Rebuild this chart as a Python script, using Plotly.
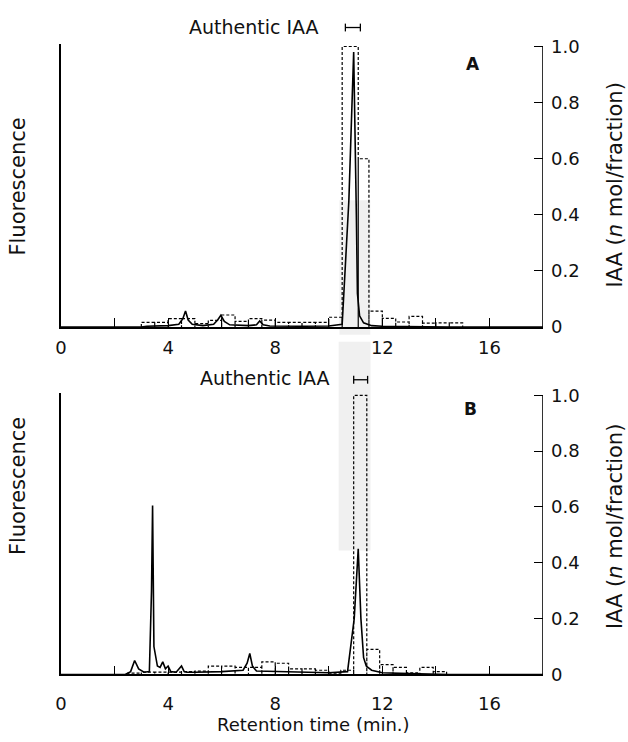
import plotly.graph_objects as go

# ---------------- data ----------------
# Panel A: fluorescence trace (relative units, same scale as right axis)
fl_a_t = [0, 3.0, 3.2, 4.0, 4.4, 4.55, 4.65, 4.75, 4.9, 5.3, 5.7, 5.85, 5.97, 6.1, 6.3,
          7.0, 7.3, 7.42, 7.55, 7.8, 9.0, 10.0, 10.5, 10.75, 10.93, 10.98, 11.03, 11.07,
          11.15, 11.3, 11.6, 12.0, 14.5, 18]
fl_a_v = [0, 0, 0.003, 0.005, 0.01, 0.03, 0.057, 0.025, 0.01, 0.005, 0.01, 0.025, 0.042, 0.02, 0.008,
          0.005, 0.008, 0.022, 0.008, 0.004, 0.003, 0.004, 0.01, 0.45, 0.98, 0.75, 0.4, 0.12,
          0.04, 0.015, 0.005, 0.003, 0, 0]
# Panel A: IAA per fraction (n mol/fraction)
frac_a_edges = [3.0, 3.5, 4.0, 4.5, 5.0, 5.5, 6.0, 6.5, 7.0, 7.5, 8.0, 8.5, 9.0, 9.5, 10.0,
                10.5, 11.1, 11.5, 12.0, 12.5, 13.0, 13.5, 14.0, 14.5, 15.0]
iaa_a = [0.017, 0.017, 0.03, 0.03, 0.012, 0.024, 0.043, 0.02, 0.03, 0.025, 0.017, 0.017,
         0.017, 0.017, 0.035, 1.0, 0.60, 0.057, 0.031, 0.018, 0.038, 0.014, 0.015, 0.015]

# Panel B
fl_b_t = [0, 2.4, 2.6, 2.75, 2.9, 3.1, 3.3, 3.38, 3.42, 3.47, 3.6, 3.7, 3.8, 3.9, 4.0, 4.1,
          4.3, 4.5, 4.6, 4.7, 5.0, 6.0, 6.8, 6.95, 7.05, 7.15, 7.3, 8.0, 9.0, 10.0, 10.7,
          10.95, 11.1, 11.15, 11.2, 11.3, 11.4, 11.6, 12.0, 13.0, 14.5, 18]
fl_b_v = [0, 0, 0.01, 0.05, 0.02, 0.008, 0.01, 0.3, 0.605, 0.1, 0.03, 0.025, 0.045, 0.02, 0.03, 0.01,
          0.008, 0.03, 0.01, 0.008, 0.008, 0.01, 0.015, 0.04, 0.075, 0.03, 0.012, 0.01, 0.007, 0.006, 0.01,
          0.2, 0.45, 0.32, 0.2, 0.06, 0.03, 0.015, 0.006, 0.003, 0, 0]
frac_b_edges = [2.5, 3.0, 3.5, 4.0, 4.5, 5.0, 5.5, 6.0, 6.5, 7.0, 7.5, 8.0, 8.5, 9.0, 9.5,
                10.0, 10.45, 10.93, 11.42, 11.9, 12.4, 12.9, 13.4, 13.9, 14.4]
iaa_b = [0.005, 0.008, 0.008, 0.008, 0.01, 0.012, 0.03, 0.03, 0.025, 0.025, 0.045, 0.04,
         0.02, 0.02, 0.015, 0.005, 0.015, 1.0, 0.09, 0.035, 0.025, 0.006, 0.025, 0.01]

authentic_a = [10.62, 11.18]
authentic_b = [10.93, 11.45]

x_tickvals = [0, 2, 4, 6, 8, 10, 12, 14, 16, 18]
x_ticktext = ["0", "", "4", "", "8", "", "12", "", "16", ""]
y_tickvals = [0, 0.2, 0.4, 0.6, 0.8, 1.0]
y_ticktext = ["0", "0.2", "0.4", "0.6", "0.8", "1.0"]

# ---------------- geometry ----------------
W, H = 628, 742
L, R = 61, 85
PW = W - L - R
FONT = "DejaVu Sans"

def px(xp):
    return (xp - L) / PW

def py(yp):
    return (H - yp) / H

def hist_path(edges, heights):
    xs, ys = [], []
    for i, h in enumerate(heights):
        x0, x1 = edges[i], edges[i + 1]
        xs += [x0, x0, x1, x1]
        ys += [0, h, h, 0]
    return xs, ys

fig = go.Figure()

ha_x, ha_y = hist_path(frac_a_edges, iaa_a)
hb_x, hb_y = hist_path(frac_b_edges, iaa_b)

fig.add_trace(go.Scatter(x=ha_x, y=ha_y, xaxis="x", yaxis="y2", mode="lines",
                         line=dict(color="black", width=1.2, dash="3px,2px"), showlegend=False))
fig.add_trace(go.Scatter(x=fl_a_t, y=fl_a_v, xaxis="x", yaxis="y", mode="lines",
                         line=dict(color="black", width=1.6), showlegend=False))
fig.add_trace(go.Scatter(x=hb_x, y=hb_y, xaxis="x2", yaxis="y4", mode="lines",
                         line=dict(color="black", width=1.2, dash="3px,2px"), showlegend=False))
fig.add_trace(go.Scatter(x=fl_b_t, y=fl_b_v, xaxis="x2", yaxis="y3", mode="lines",
                         line=dict(color="black", width=1.6), showlegend=False))

domA = [py(327), py(36.6)]
domB = [py(683), py(394.1)]
yr = [0, 1.01]

xcommon = dict(range=[0, 18], showgrid=False, zeroline=False, showline=True, linecolor="black",
               linewidth=1.6, ticks="inside", ticklen=9, tickwidth=1.4, tickcolor="black",
               tickvals=x_tickvals, ticktext=x_ticktext,
               tickfont=dict(family=FONT, size=18, color="#111"), domain=[0, 1])
yleft = dict(range=yr, showgrid=False, zeroline=False, showline=True, linecolor="black",
             linewidth=2, showticklabels=False, ticks="")
yright = dict(range=yr, showgrid=False, zeroline=False, showline=False, side="right",
              ticks="inside", ticklen=9, tickwidth=1.4, tickcolor="black",
              tickvals=y_tickvals, ticktext=y_ticktext, ticklabelstandoff=7,
              tickfont=dict(family=FONT, size=18, color="#111"))

fig.update_layout(
    width=W, height=H, margin=dict(l=L, r=R, t=0, b=0),
    paper_bgcolor="white", plot_bgcolor="rgba(0,0,0,0)",
    xaxis=dict(xcommon, anchor="y", ticklabelstandoff=4),
    xaxis2=dict(xcommon, anchor="y3", ticklabelstandoff=12),
    yaxis=dict(yleft, domain=domA, anchor="x"),
    yaxis2=dict(yright, domain=domA, anchor="x", overlaying="y"),
    yaxis3=dict(yleft, domain=domB, anchor="x2"),
    yaxis4=dict(yright, domain=domB, anchor="x2", overlaying="y3"),
)

shapes = []
# light grey shaded bands behind the IAA peak
shapes.append(dict(type="rect", xref="x", yref="paper", x0=10.4, x1=11.55, y0=py(335), y1=py(197),
                   fillcolor="#f0f0f0", line=dict(width=0), layer="below"))
shapes.append(dict(type="rect", xref="x2", yref="paper", x0=10.37, x1=11.56, y0=py(556), y1=py(342),
                   fillcolor="#f0f0f0", line=dict(width=0), layer="below"))
# right axis lines
shapes.append(dict(type="line", xref="x", yref="y2", x0=18, x1=18, y0=0, y1=1.0,
                   line=dict(color="black", width=1.6)))
shapes.append(dict(type="line", xref="x2", yref="y4", x0=18, x1=18, y0=0, y1=1.0,
                   line=dict(color="black", width=1.6)))
# authentic IAA range markers
for xr, rng, ypx in [("x", authentic_a, 20), ("x2", authentic_b, 381)]:
    yc = py(ypx)
    cap = 4 / H
    shapes.append(dict(type="line", xref=xr, yref="paper", x0=rng[0], x1=rng[1], y0=yc, y1=yc,
                       line=dict(color="black", width=1.3)))
    for xv in rng:
        shapes.append(dict(type="line", xref=xr, yref="paper", x0=xv, x1=xv, y0=yc - cap, y1=yc + cap,
                           line=dict(color="black", width=1.3)))
fig.update_layout(shapes=shapes)

def ann(text, xp, yp, size=17, angle=0, bold=False):
    t = f"<b>{text}</b>" if bold else text
    return dict(text=t, x=px(xp), y=py(yp), xref="paper", yref="paper", showarrow=False,
                textangle=angle, xanchor="center", yanchor="middle",
                font=dict(family=FONT, size=size, color="#111"))

annotations = [
    ann("Authentic IAA", 254, 19, size=19),
    ann("Authentic IAA", 265, 379, size=19),
    ann("A", 473, 57, size=17, bold=True),
    ann("B", 470, 411, size=17, bold=True),
    ann("Fluorescence", 18, 183, size=21, angle=-90),
    ann("Fluorescence", 18, 490, size=21, angle=-90),
    ann("IAA (<i>n</i> mol/fraction)", 615, 182, size=21, angle=-90),
    ann("IAA (<i>n</i> mol/fraction)", 615, 532, size=21, angle=-90),
    ann("Retention time (min.)", 313, 734, size=18),
]
fig.update_layout(annotations=annotations)

fig.write_html("out.html", config={"displayModeBar": False},
               post_script="document.body.style.margin='0';")
